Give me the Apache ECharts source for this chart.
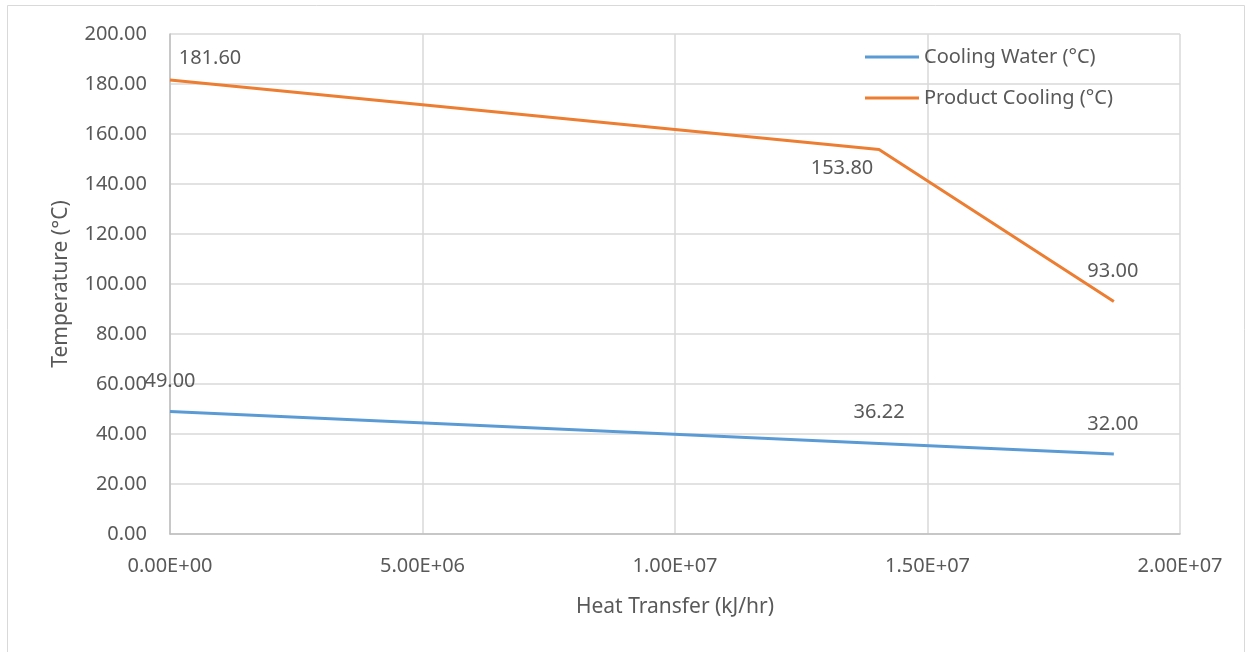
<!DOCTYPE html>
<html>
<head>
<meta charset="utf-8">
<script src="https://cdn.jsdelivr.net/npm/echarts@6/dist/echarts.min.js"></script>
<style>html,body{margin:0;padding:0;background:#fff}#c{width:1252px;height:652px}</style>
</head>
<body>
<div id="c"></div>
<script>
// ---- data ----
const heatTransfer = [0, 1.404e7, 1.869e7];
const coolingWater = [49.00, 36.22, 32.00];
const productCooling = [181.60, 153.80, 93.00];
const seriesNames = ['Cooling Water (°C)', 'Product Cooling (°C)'];
const xTitle = 'Heat Transfer (kJ/hr)';
const yTitle = 'Temperature (°C)';

// label placement (per point, pixels relative to point)
const waterLabelOffsets = [[0, -30], [0, -31], [-1, -30]];
const productLabelOffsets = [[40, -22], [-37, 19], [-1, -30]];

const FONT = 'Noto Sans';
const TXT = '#595959';

function expFmt(v) {
  if (v === 0) return '0.00E+00';
  const e = Math.floor(Math.log10(Math.abs(v)));
  const m = v / Math.pow(10, e);
  const es = (e < 0 ? '-' : '+') + String(Math.abs(e)).padStart(2, '0');
  return m.toFixed(2) + 'E' + es;
}

function lineSeries(name, ys, offs, color) {
  return {
    name: name, type: 'line',
    data: heatTransfer.map((x, i) => [x, ys[i]]),
    symbol: 'circle', symbolSize: 0.01, showSymbol: true, showAllSymbol: true,
    lineStyle: { color: color, width: 3 },
    itemStyle: { color: color },
    emphasis: { disabled: true },
    label: {
      show: true, position: 'inside', align: 'center', verticalAlign: 'middle',
      color: TXT, fontSize: 20, fontFamily: FONT,
      formatter: p => p.value[1].toFixed(2)
    },
    labelLayout: function (p) {
      const o = offs[p.dataIndex] || [0, 0];
      return { dx: o[0], dy: o[1], hideOverlap: false };
    }
  };
}

const chart = echarts.init(document.getElementById('c'), null, { renderer: 'canvas' });
chart.setOption({
  animation: false,
  backgroundColor: '#ffffff',
  textStyle: { fontFamily: FONT },
  graphic: [{
    type: 'rect', z: -10,
    shape: { x: 7.5, y: 5.5, width: 1237, height: 660 },
    style: { fill: '#ffffff', stroke: '#d9d9d9', lineWidth: 1 }
  }],
  grid: { left: 170, top: 34, right: 72, bottom: 118 },
  legend: {
    orient: 'vertical',
    left: 860, top: 41,
    itemWidth: 54, itemHeight: 3, itemGap: 19,
    icon: 'rect',
    textStyle: { color: TXT, fontSize: 20, fontFamily: FONT, lineHeight: 22 },
    data: seriesNames
  },
  xAxis: {
    type: 'value', min: 0, max: 2e7, interval: 5e6,
    name: xTitle, nameLocation: 'middle', nameGap: 63,
    nameTextStyle: { color: TXT, fontSize: 21, fontFamily: FONT },
    axisLine: { show: true, lineStyle: { color: '#bfbfbf', width: 1.5 } },
    axisTick: { show: false },
    axisLabel: { color: TXT, fontSize: 20, fontFamily: FONT, margin: 22, formatter: expFmt },
    splitLine: { show: true, lineStyle: { color: '#d9d9d9', width: 1.5 } }
  },
  yAxis: {
    type: 'value', min: 0, max: 200, interval: 20,
    name: yTitle, nameLocation: 'middle', nameGap: 98, nameRotate: 90,
    nameTextStyle: { color: TXT, fontSize: 21, fontFamily: FONT },
    axisLine: { show: true, lineStyle: { color: '#bfbfbf', width: 1.5 } },
    axisTick: { show: false },
    axisLabel: { color: TXT, fontSize: 20, fontFamily: FONT, margin: 23, formatter: v => v.toFixed(2) },
    splitLine: { show: true, lineStyle: { color: '#d9d9d9', width: 1.5 } }
  },
  series: [
    lineSeries(seriesNames[0], coolingWater, waterLabelOffsets, '#5b9bd5'),
    lineSeries(seriesNames[1], productCooling, productLabelOffsets, '#ed7d31')
  ]
});
</script>
</body>
</html>
